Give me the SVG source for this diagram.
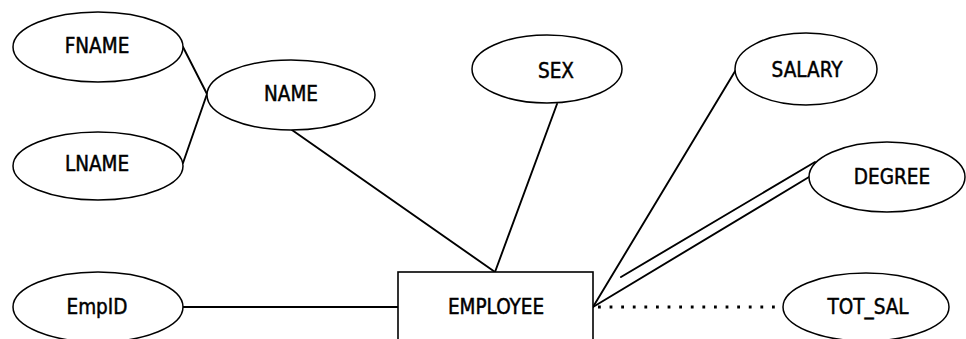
<svg xmlns="http://www.w3.org/2000/svg" width="966" height="339" viewBox="0 0 966 339">
  <style>
    .attr { fill: #ffffff; stroke: #000000; stroke-width: 1.5; }
    .entity { fill: #ffffff; stroke: #000000; stroke-width: 1.6; }
    .label { font-family: "DejaVu Sans Condensed", "DejaVu Sans", sans-serif; font-stretch: condensed; font-size: 20.5px; fill: #000000; stroke: #000000; stroke-width: 0.45; text-anchor: middle; }
    .link { stroke: #000000; stroke-width: 1.9; fill: none; stroke-linecap: round; }
    .derived { stroke: #000000; stroke-width: 2.8; fill: none; stroke-dasharray: 2.8 8.8; }
  </style>
  <rect width="966" height="339" fill="#ffffff"/>

  <!-- connectors -->
  <g id="connectors">
    <line class="link" x1="183" y1="47" x2="207" y2="94"/>
    <line class="link" x1="183" y1="163" x2="207" y2="94"/>
    <line class="link" x1="292" y1="130" x2="495" y2="272"/>
    <line class="link" x1="557" y1="104" x2="495" y2="272"/>
    <line class="link" x1="737" y1="68" x2="593" y2="307"/>
    <!-- multivalued attribute: double line -->
    <line class="link" x1="621" y1="277" x2="815" y2="162"/>
    <line class="link" x1="593" y1="307" x2="809" y2="177"/>
    <line class="link" x1="183" y1="307" x2="398" y2="307" stroke-width="2.3"/>
    <!-- derived attribute: dotted line -->
    <line class="derived" x1="598" y1="307" x2="783" y2="307"/>
  </g>

  <g id="fname">
    <ellipse class="attr" cx="98" cy="47" rx="85" ry="35"/>
    <text class="label" x="97" y="53">FNAME</text>
  </g>
  <g id="name">
    <ellipse class="attr" cx="291" cy="95" rx="84" ry="35"/>
    <text class="label" x="291" y="101">NAME</text>
  </g>
  <g id="lname">
    <ellipse class="attr" cx="98" cy="166" rx="85" ry="34"/>
    <text class="label" x="97" y="171">LNAME</text>
  </g>
  <g id="sex">
    <ellipse class="attr" cx="547" cy="69" rx="75" ry="34"/>
    <text class="label" x="556" y="78">SEX</text>
  </g>
  <g id="salary">
    <ellipse class="attr" cx="806" cy="69" rx="71" ry="36"/>
    <text class="label" x="807" y="77">SALARY</text>
  </g>
  <g id="degree">
    <ellipse class="attr" cx="887" cy="177" rx="78" ry="35"/>
    <text class="label" x="892" y="184">DEGREE</text>
  </g>
  <g id="empid">
    <ellipse class="attr" cx="98" cy="307" rx="85" ry="35"/>
    <text class="label" x="97" y="314">EmpID</text>
  </g>
  <g id="tot_sal">
    <ellipse class="attr" cx="866" cy="307" rx="83" ry="34"/>
    <text class="label" x="868" y="314">TOT_SAL</text>
  </g>
  <g id="employee">
    <rect class="entity" x="398" y="272" width="195" height="80"/>
    <text class="label" x="496" y="314">EMPLOYEE</text>
  </g>
</svg>
